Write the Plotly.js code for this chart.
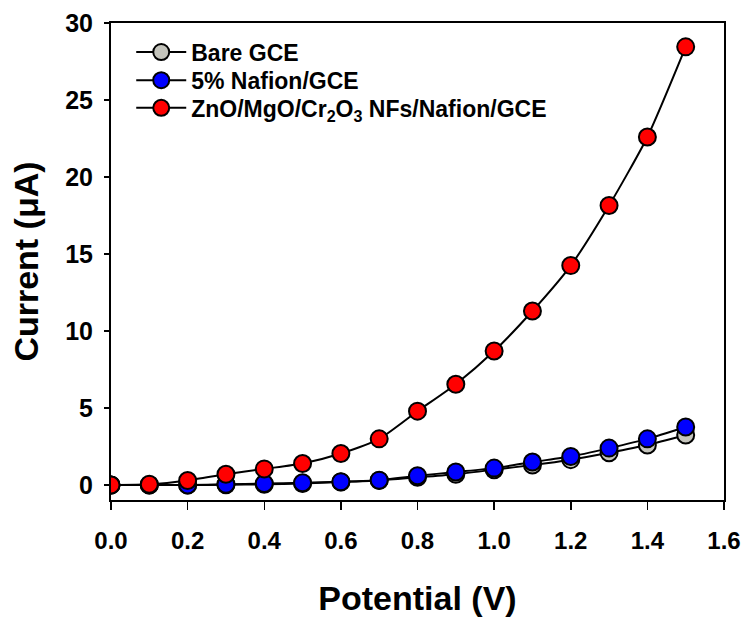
<!DOCTYPE html>
<html>
<head>
<meta charset="utf-8">
<script src="https://cdn.plot.ly/plotly-3.0.1.min.js"></script>
<style>body{margin:0;padding:0;background:#fff;}#chart{width:742px;height:617px;}</style>
</head>
<body>
<div id="chart"></div>
<script>
const potential = [0.0,0.1,0.2,0.3,0.4,0.5,0.6,0.7,0.8,0.9,1.0,1.1,1.2,1.3,1.4,1.5];
const bareGCE   = [0.0,0.0,0.0,0.02,0.05,0.1,0.2,0.3,0.5,0.7,1.0,1.3,1.65,2.1,2.6,3.25];
const nafionGCE = [0.0,0.0,0.0,0.05,0.1,0.15,0.22,0.32,0.6,0.85,1.1,1.5,1.85,2.4,3.0,3.77];
const nfsGCE    = [0.0,0.05,0.3,0.7,1.05,1.4,2.05,3.0,4.8,6.55,8.7,11.3,14.25,18.15,22.6,28.45];
const seriesNames = ["Bare GCE","5% Nafion/GCE","ZnO/MgO/Cr<sub>2</sub>O<sub>3</sub> NFs/Nafion/GCE"];
const xTicks = [0.0,0.2,0.4,0.6,0.8,1.0,1.2,1.4,1.6];
const xTickText = ["0.0","0.2","0.4","0.6","0.8","1.0","1.2","1.4","1.6"];
const yTicks = [0,5,10,15,20,25,30];

const colors = ["#c4c4bc","#0000ff","#ff0000"];
const legendIds = ['legend','legend2','legend3'];
const ys = [bareGCE, nafionGCE, nfsGCE];
const traces = ys.map((y,i)=>({
  x: potential, y: y, name: seriesNames[i], type:'scatter', mode:'lines+markers',
  legend: legendIds[i],
  line:{color:'#000', width:2, shape:'spline', smoothing:0.6},
  marker:{color:colors[i], size:17, line:{color:'#000', width:2}}
}));

const fam = '"Liberation Sans", Arial, sans-serif';
const legendRowY = [0.939, 0.880, 0.822];
function legendBox(yy){
  return {x:0.033, y:yy, xanchor:'left', yanchor:'middle', bgcolor:'rgba(0,0,0,0)',
    font:{family:fam, size:23, color:'#000', weight:'bold'}, itemwidth:50};
}
const layout = {
  width:742, height:617,
  margin:{l:111, r:18, t:23, b:117},
  paper_bgcolor:'#fff', plot_bgcolor:'#fff',
  showlegend:true,
  legend: legendBox(legendRowY[0]),
  legend2: legendBox(legendRowY[1]),
  legend3: legendBox(legendRowY[2]),
  xaxis:{range:[0,1.6], tickvals:xTicks, ticktext:xTickText, ticks:'outside', ticklen:8, tickwidth:1.5,
    tickcolor:'#000', showline:true, linecolor:'#000', linewidth:2, mirror:true, showgrid:false, zeroline:false,
    ticklabelstandoff:10,
    tickfont:{family:fam, size:24, color:'#000', weight:'bold'},
    title:{text:'Potential (V)', font:{family:fam, size:34, color:'#000', weight:'bold'}, standoff:33}},
  yaxis:{range:[-0.97,30], tickvals:yTicks, ticks:'outside', ticklen:5, tickwidth:1.5,
    tickcolor:'#000', showline:true, linecolor:'#000', linewidth:2, mirror:true, showgrid:false, zeroline:false,
    ticklabelstandoff:6,
    tickfont:{family:fam, size:25, color:'#000', weight:'bold'},
    title:{text:'Current (μA)', font:{family:fam, size:34, color:'#000', weight:'bold'}, standoff:16}}
};
Plotly.newPlot('chart', traces, layout, {displayModeBar:false, staticPlot:true});
</script>
</body>
</html>
